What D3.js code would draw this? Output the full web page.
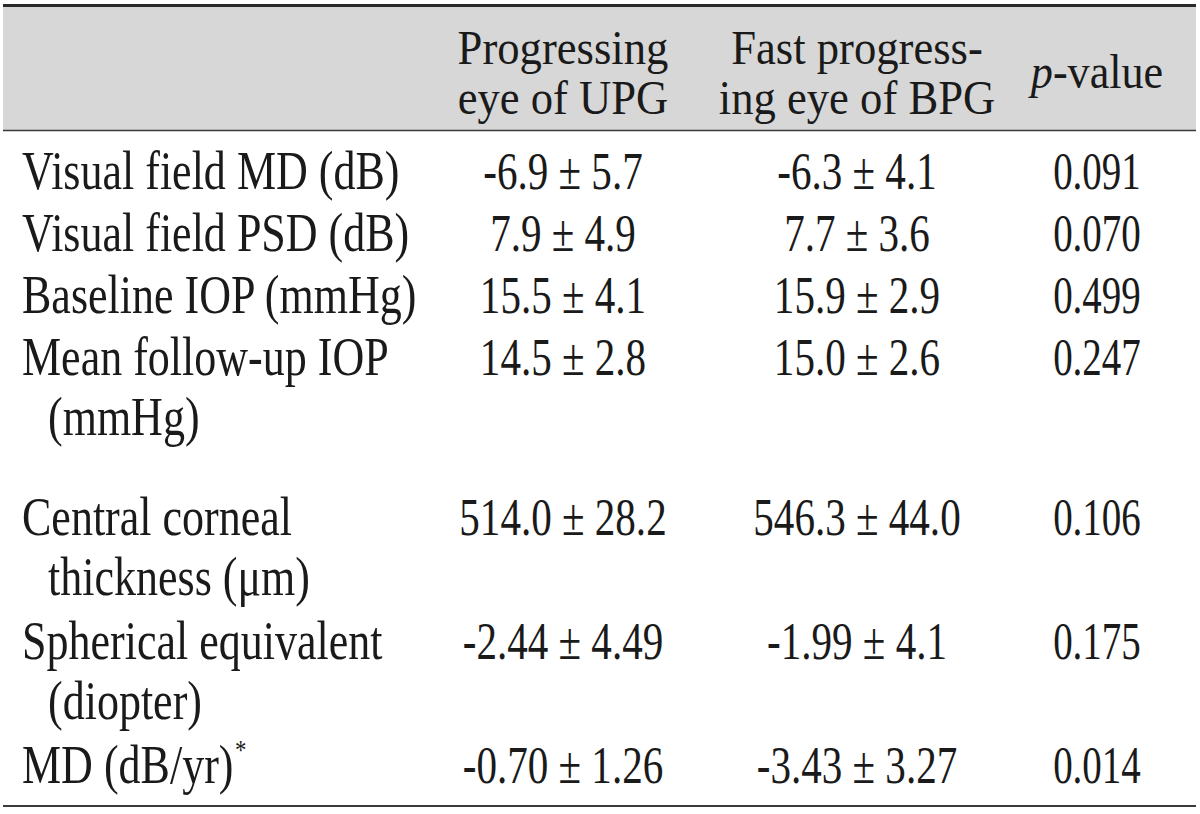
<!DOCTYPE html>
<html>
<head>
<meta charset="utf-8">
<script src="https://cdn.jsdelivr.net/npm/d3@7"></script>
<style>
html,body{margin:0;padding:0;background:#fff;}
svg{display:block;}
text{font-family:"Liberation Serif","Times New Roman",serif;fill:#1a1a1a;}
</style>
</head>
<body>
<svg id="chart" width="1200" height="814"></svg>
<script>
// ---- data ----
const columnHeaders = [
  ["Progressing", "eye of UPG"],
  ["Fast progress-", "ing eye of BPG"],
  ["p-value"]
];
const rowLabels = [
  ["Visual field MD (dB)"],
  ["Visual field PSD (dB)"],
  ["Baseline IOP (mmHg)"],
  ["Mean follow-up IOP", "(mmHg)"],
  ["Central corneal", "thickness (\u03bcm)"],
  ["Spherical equivalent", "(diopter)"],
  ["MD (dB/yr)"]
];
const rowFootnote = ["", "", "", "", "", "", "*"];
const upgValues = ["-6.9 \u00b1 5.7", "7.9 \u00b1 4.9", "15.5 \u00b1 4.1", "14.5 \u00b1 2.8", "514.0 \u00b1 28.2", "-2.44 \u00b1 4.49", "-0.70 \u00b1 1.26"];
const bpgValues = ["-6.3 \u00b1 4.1", "7.7 \u00b1 3.6", "15.9 \u00b1 2.9", "15.0 \u00b1 2.6", "546.3 \u00b1 44.0", "-1.99 \u00b1 4.1", "-3.43 \u00b1 3.27"];
const pValues = ["0.091", "0.070", "0.499", "0.247", "0.106", "0.175", "0.014"];

// ---- layout ----
const svg = d3.select("#chart");
const left = 3, right = 1196;
const colX = d3.scaleOrdinal().domain([0,1,2]).range([563, 857, 1097]);
const labelX = 22, indentX = 48;
const lineStep = 60;
const rowTops = [];
let y = 172;
rowLabels.forEach((lines, i) => {
  rowTops.push(y);
  y += 62 + (lines.length - 1) * 62 + (i === 3 ? 36 : 0);
});
const baseOff = 17;

// header background
svg.append("rect").attr("x", left).attr("y", 6).attr("width", right - left).attr("height", 124).attr("fill", "#d7d7d7");
// rules
svg.append("line").attr("x1", left).attr("x2", right).attr("y1", 5.5).attr("y2", 5.5).attr("stroke", "#2a2a2a").attr("stroke-width", 3);
svg.append("line").attr("x1", left).attr("x2", right).attr("y1", 130.5).attr("y2", 130.5).attr("stroke", "#3a3a3a").attr("stroke-width", 1.6);
svg.append("line").attr("x1", left).attr("x2", right).attr("y1", 806).attr("y2", 806).attr("stroke", "#3a3a3a").attr("stroke-width", 2.2);

function addText(g, x, y, str, size, sx, anchor) {
  return g.append("text")
    .attr("transform", `translate(${x},${y}) scale(${sx},1)`)
    .attr("text-anchor", anchor)
    .attr("font-size", size)
    .text(str);
}

// headers
const hg = svg.append("g");
columnHeaders.forEach((lines, c) => {
  if (lines.length === 2) {
    lines.forEach((ln, k) => addText(hg, colX(c), 64 + k * 50, ln, 48, 0.93, "middle"));
  } else {
    const t = hg.append("text")
      .attr("transform", `translate(${colX(c)},${88}) scale(0.92,1)`)
      .attr("text-anchor", "middle").attr("font-size", 48);
    t.append("tspan").attr("font-style", "italic").text("p");
    t.append("tspan").text("-value");
  }
});

// body
const bg = svg.append("g");
rowLabels.forEach((lines, i) => {
  const yb = rowTops[i] + baseOff;
  lines.forEach((ln, k) => {
    const t = addText(bg, k === 0 ? labelX : indentX, yb + k * lineStep, ln, 54, 0.815, "start");
    if (k === 0 && rowFootnote[i]) {
      t.append("tspan").attr("font-size", 28).attr("dx", 2).attr("dy", -24).text(rowFootnote[i]);
    }
  });
  addText(bg, colX(0), yb, upgValues[i], 52, 0.79, "middle");
  addText(bg, colX(1), yb, bpgValues[i], 52, 0.79, "middle");
  addText(bg, colX(2), yb, pValues[i], 52, 0.75, "middle");
});
</script>
</body>
</html>
